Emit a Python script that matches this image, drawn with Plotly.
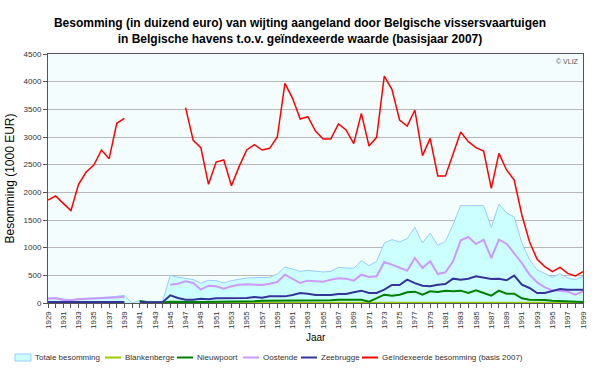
import plotly.graph_objects as go

years = list(range(1929, 2000))

# Geïndexeerde besomming (basis 2007)
geindexeerd = [1861, 1934, 1800, 1669, 2145, 2367, 2494, 2765, 2608, 3247, 3337,
               None, None, None, None, None, None, None,
               3530, 2940, 2807, 2145, 2548, 2584, 2120, 2464, 2765, 2861, 2765, 2795,
               3000, 3970, 3699, 3325, 3367, 3108, 2964, 2964, 3235, 3127,
               2880, 3428, 2837, 2994, 4102, 3861, 3307, 3199, 3488, 2663,
               2976, 2295, 2295, 2687, 3090, 2916, 2807, 2747, 2072, 2705,
               2404, 2223, 1590, 1108, 789, 657, 566, 645, 536, 488, 566]

totaal = [90, 96, 72, 60, 78, 84, 84, 102, 108, 120, 138,
          0, 45, 30, 30, 30,
          500, 464, 446, 422, 361, 410, 404, 361, 404, 434,
          452, 458, 458, 464, 524, 651, 614, 572, 590, 572,
          560, 572, 645, 633, 627, 765, 675, 753, 1084, 1145,
          1102, 1163, 1367, 1084, 1265, 1042, 1114, 1416, 1759, 1759,
          1759, 1759, 1367, 1789, 1627, 1554, 1084, 783, 602, 530,
          464, 530, 452, 422, 482]

blankenberge = [None] * 16 + [5] * 55

nieuwpoort = [None] * 12 + [36, 12, 10, 10,
              24, 18, 18, 18, 18, 18, 18, 18, 18, 20,
              22, 30, 42, 42, 42, 42, 42, 42, 42, 45,
              48, 50, 60, 60, 60, 60, 24, 90, 150, 133,
              150, 193, 205, 151, 211, 199, 223, 211, 223, 181,
              229, 181, 133, 223, 169, 169, 84, 60, 60, 54,
              42, 36, 24, 18, 18]

oostende = [78, 84, 54, 48, 66, 72, 72, 84, 84, 96, 108,
            None, None, None, None, None,
            331, 349, 392, 361, 241, 313, 301, 259, 301, 331,
            337, 337, 325, 349, 380, 512, 434, 361, 404, 398,
            386, 422, 446, 440, 404, 512, 470, 482, 741, 693,
            645, 584, 813, 633, 753, 524, 554, 753, 1133, 1193,
            1066, 1145, 813, 1145, 1072, 892, 723, 512, 373, 283,
            229, 223, 205, 151, 211]

zeebrugge = [20, 20, 20, 20, 20, 20, 20, 20, 20, 20, 20,
             None, 15, 15, 15, 15,
             139, 90, 60, 60, 78, 66, 84, 84, 84, 84,
             90, 108, 96, 120, 120, 120, 145, 181, 169, 145,
             145, 145, 163, 163, 193, 223, 181, 181, 241, 325,
             325, 422, 360, 313, 301, 331, 343, 440, 422, 440,
             482, 452, 434, 440, 410, 494, 331, 271, 181, 181,
             211, 253, 241, 241, 241]

series_names = ["Totale besomming", "Blankenberge", "Nieuwpoort", "Oostende",
                "Zeebrugge", "Geïndexeerde besomming (basis 2007)"]
series_colors = ["#99ccff", "#99cc00", "#008000", "#cc99ff", "#333399", "#ff0000"]

W, H = 600, 368
ML, MR, MT, MB = 48, 17, 54, 65
PW, PH = W - ML - MR, H - MT - MB


def px(x):
    return (x - ML) / PW


def py(y):
    return (H - MB - y) / PH


fig = go.Figure()

fig.add_trace(go.Scatter(x=years, y=totaal, name=series_names[0], mode="lines",
                         line=dict(color=series_colors[0], width=1), fill="tozeroy",
                         fillcolor="#ccffff", showlegend=False))
fig.add_trace(go.Scatter(x=years, y=blankenberge, name=series_names[1], mode="lines",
                         line=dict(color=series_colors[1], width=2), showlegend=False))
fig.add_trace(go.Scatter(x=years, y=nieuwpoort, name=series_names[2], mode="lines",
                         line=dict(color=series_colors[2], width=2), showlegend=False))
fig.add_trace(go.Scatter(x=years, y=oostende, name=series_names[3], mode="lines",
                         line=dict(color=series_colors[3], width=2), showlegend=False))
fig.add_trace(go.Scatter(x=years, y=zeebrugge, name=series_names[4], mode="lines",
                         line=dict(color=series_colors[4], width=2), showlegend=False))
fig.add_trace(go.Scatter(x=years, y=geindexeerd, name=series_names[5],
                         mode="lines", line=dict(color=series_colors[5], width=1.5),
                         showlegend=False))

# manual legend (short symbols like the original)
legend_sym_x = [15, 105, 177, 243, 301, 362]
ly = 357.5
shapes = []
annotations = []
for i, (name, col) in enumerate(zip(series_names, series_colors)):
    x0 = legend_sym_x[i]
    if i == 0:
        shapes.append(dict(type="rect", xref="paper", yref="paper",
                           x0=px(x0), x1=px(x0 + 16), y0=py(ly + 3.5), y1=py(ly - 3.5),
                           fillcolor="#ccffff", line=dict(color="#99ccff", width=1)))
    else:
        shapes.append(dict(type="line", xref="paper", yref="paper",
                           x0=px(x0), x1=px(x0 + 16), y0=py(ly), y1=py(ly),
                           line=dict(color=col, width=2)))
    annotations.append(dict(text=name, xref="paper", yref="paper", x=px(x0 + 18), y=py(ly),
                            xanchor="left", yanchor="middle", showarrow=False,
                            font=dict(size=8, color="#333333")))

annotations.append(dict(text="Jaar", x=0.5, xref="paper", y=py(337), yref="paper",
                        showarrow=False, xanchor="center", yanchor="middle",
                        font=dict(size=10, color="black")))
annotations.append(dict(text="© VLIZ", x=px(581), xref="paper", y=py(56), yref="paper",
                        showarrow=False, xanchor="right", yanchor="top",
                        font=dict(size=7, color="#555555")))

fig.update_layout(
    width=W, height=H,
    margin=dict(l=ML, r=MR, t=MT, b=MB, autoexpand=False),
    paper_bgcolor="white",
    plot_bgcolor="#f3fdfd",
    font=dict(family="Liberation Sans, Arial, sans-serif", size=8, color="#333333"),
    title=dict(
        text="<b>Besomming (in duizend euro) van wijting aangeland door Belgische vissersvaartuigen<br>in Belgische havens t.o.v. geïndexeerde waarde (basisjaar 2007)</b>",
        x=0.5, xanchor="center", y=1 - 27 / H, yanchor="middle",
        font=dict(family="Liberation Sans, Arial, sans-serif", size=12, color="black"),
    ),
    showlegend=False,
    hovermode=False,
    xaxis=dict(
        range=[1929, 1999], tick0=1929, dtick=2, tickangle=-90,
        ticks="outside", ticklen=4, tickcolor="#555555",
        minor=dict(dtick=1, ticks="outside", ticklen=4, tickcolor="#555555"),
        showgrid=False, showline=True, linecolor="#555555", linewidth=1, mirror=True,
        tickfont=dict(size=8, color="#333333"), zeroline=False, automargin=False,
    ),
    yaxis=dict(
        range=[0, 4500], dtick=500, ticks="outside", ticklen=4, tickcolor="#555555",
        showgrid=True, gridcolor="#b8b8b8", gridwidth=1,
        showline=True, linecolor="#555555", linewidth=1, mirror=True,
        tickfont=dict(size=8, color="#333333"), zeroline=False, automargin=False,
        title=dict(text="Besomming (1000 EUR)", font=dict(size=12, color="black"), standoff=6),
    ),
    shapes=shapes,
    annotations=annotations,
)

fig.write_html("out.html",
               config={"displayModeBar": False, "staticPlot": True},
               post_script="document.body.style.margin='0';document.body.style.padding='0';")
